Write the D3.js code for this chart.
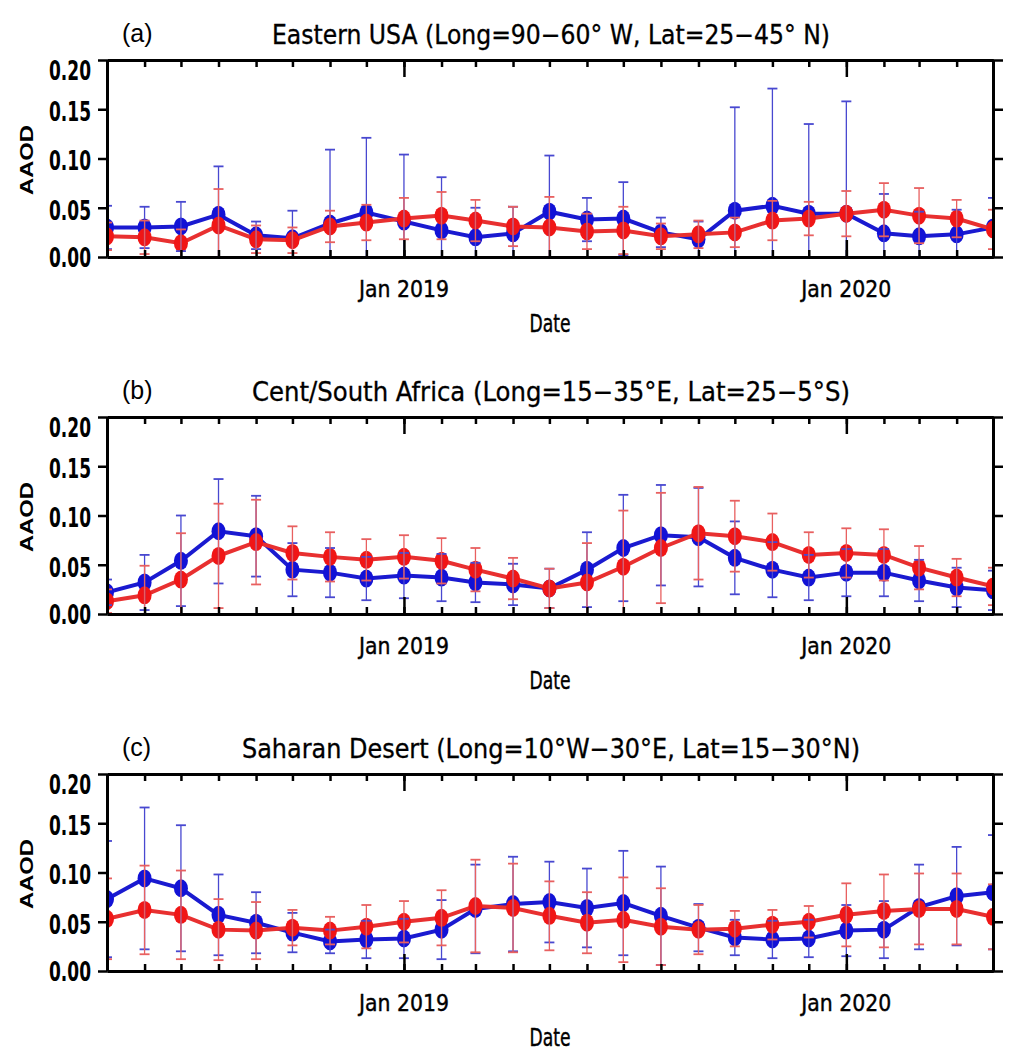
<!DOCTYPE html>
<html>
<head>
<meta charset="utf-8">
<script src="https://cdn.jsdelivr.net/npm/d3@7"></script>
<style>
  body { margin: 0; background: #fff; }
  svg { display: block; }
</style>
</head>
<body>
<script>
"use strict";

// monthly means from May 2018 to May 2020
const months = ["2018-05", "2018-06", "2018-07", "2018-08", "2018-09", "2018-10", "2018-11", "2018-12",
    "2019-01", "2019-02", "2019-03", "2019-04", "2019-05", "2019-06", "2019-07", "2019-08", "2019-09",
    "2019-10", "2019-11", "2019-12", "2020-01", "2020-02", "2020-03", "2020-04", "2020-05"];

const panelLabels = ["(a)", "(b)", "(c)"];
const panelTitles = [
    "Eastern USA (Long=90\u221260\u00b0 W, Lat=25\u221245\u00b0 N)",
    "Cent/South Africa (Long=15\u221235\u00b0E, Lat=25\u22125\u00b0S)",
    "Saharan Desert (Long=10\u00b0W\u221230\u00b0E, Lat=15\u221230\u00b0N)"
];

const yTicks = [0, 0.05, 0.10, 0.15, 0.20];
const xTickMonths = ["2019-01", "2020-01"];
const xTickLabels = ["Jan 2019", "Jan 2020"];

// (a) Eastern USA
const usaBlue = [0.030, 0.030, 0.031, 0.043, 0.022, 0.019, 0.034, 0.045, 0.036, 0.027, 0.020, 0.024, 0.046,
    0.038, 0.039, 0.025, 0.018, 0.047, 0.052, 0.044, 0.044, 0.024, 0.021, 0.023, 0.030];
const usaBlueSd = [0.022, 0.021, 0.025, 0.049, 0.014, 0.028, 0.075, 0.076, 0.068, 0.054, 0.030, 0.027, 0.057,
    0.022, 0.037, 0.015, 0.018, 0.105, 0.119, 0.091, 0.114, 0.040, 0.025, 0.025, 0.030];
const usaRed = [0.021, 0.020, 0.014, 0.032, 0.018, 0.017, 0.031, 0.035, 0.039, 0.042, 0.037, 0.031, 0.030,
    0.026, 0.027, 0.021, 0.023, 0.025, 0.037, 0.039, 0.044, 0.048, 0.042, 0.039, 0.028];
const usaRedSd = [0.014, 0.017, 0.014, 0.037, 0.014, 0.013, 0.016, 0.018, 0.021, 0.024, 0.021, 0.020, 0.031,
    0.018, 0.024, 0.013, 0.014, 0.015, 0.020, 0.017, 0.023, 0.027, 0.028, 0.019, 0.020];

// (b) Cent/South Africa
const africaBlue = [0.022, 0.032, 0.054, 0.084, 0.079, 0.045, 0.042, 0.036, 0.039, 0.037, 0.032, 0.030, 0.026,
    0.045, 0.067, 0.080, 0.078, 0.057, 0.045, 0.037, 0.042, 0.042, 0.034, 0.027, 0.024];
const africaBlueSd = [0.013, 0.028, 0.046, 0.053, 0.041, 0.027, 0.025, 0.022, 0.023, 0.024, 0.020, 0.021, 0.020,
    0.038, 0.054, 0.051, 0.050, 0.037, 0.028, 0.023, 0.024, 0.024, 0.021, 0.020, 0.020];
const africaRed = [0.013, 0.019, 0.035, 0.059, 0.073, 0.062, 0.058, 0.055, 0.058, 0.054, 0.045, 0.036, 0.026,
    0.032, 0.048, 0.067, 0.082, 0.079, 0.073, 0.060, 0.062, 0.060, 0.047, 0.037, 0.028];
const africaRedSd = [0.012, 0.030, 0.047, 0.053, 0.043, 0.027, 0.025, 0.021, 0.022, 0.023, 0.022, 0.021, 0.020,
    0.040, 0.057, 0.056, 0.047, 0.036, 0.029, 0.023, 0.025, 0.026, 0.022, 0.019, 0.019];

// (c) Saharan Desert
const saharaBlue = [0.073, 0.094, 0.084, 0.057, 0.049, 0.039, 0.030, 0.032, 0.033, 0.042, 0.063, 0.068, 0.070,
    0.064, 0.069, 0.056, 0.044, 0.034, 0.032, 0.033, 0.041, 0.042, 0.065, 0.076, 0.080];
const saharaBlueSd = [0.059, 0.072, 0.064, 0.041, 0.031, 0.020, 0.012, 0.019, 0.020, 0.030, 0.045, 0.048, 0.041,
    0.040, 0.053, 0.050, 0.024, 0.018, 0.019, 0.019, 0.026, 0.029, 0.043, 0.050, 0.058];
const saharaRed = [0.053, 0.062, 0.057, 0.042, 0.041, 0.044, 0.041, 0.045, 0.050, 0.054, 0.066, 0.064, 0.056,
    0.049, 0.052, 0.045, 0.042, 0.043, 0.047, 0.050, 0.057, 0.061, 0.063, 0.063, 0.055];
const saharaRedSd = [0.041, 0.045, 0.045, 0.031, 0.029, 0.018, 0.014, 0.022, 0.021, 0.028, 0.047, 0.045, 0.035,
    0.031, 0.043, 0.039, 0.025, 0.018, 0.015, 0.016, 0.032, 0.037, 0.036, 0.036, 0.033];

const panels = [
    { blue: usaBlue, blueSd: usaBlueSd, red: usaRed, redSd: usaRedSd },
    { blue: africaBlue, blueSd: africaBlueSd, red: africaRed, redSd: africaRedSd },
    { blue: saharaBlue, blueSd: saharaBlueSd, red: saharaRed, redSd: saharaRedSd }
];

const W = 1019, H = 1061;
const left = 107, right = 993, plotH = 197, firstTop = 60, panelStep = 357;
const titleFont = "'DejaVu Sans Condensed', 'DejaVu Sans', sans-serif";

const colors = {
    blue: "#1212d6", blueLine: "#1a1ad0", blueBar: "#4848d0",
    red: "#f01616", redLine: "#e83030", redBar: "#e86060"
};

const parseMonth = d3.timeParse("%Y-%m");
const dates = months.map(parseMonth);

const svg = d3.select("body").append("svg")
    .attr("width", W)
    .attr("height", H);

const x = d3.scaleTime()
    .domain([dates[0], dates[dates.length - 1]])
    .range([left, right]);

function drawSeries(g, y, means, sds, col, lineCol) {
    const pts = means.map((v, i) => ({ date: dates[i], v: v, sd: sds[i] }));

    g.append("path")
        .datum(pts)
        .attr("fill", "none")
        .attr("stroke", lineCol)
        .attr("stroke-width", 4)
        .attr("d", d3.line().x(d => x(d.date)).y(d => y(d.v)));

    g.selectAll(null)
        .data(pts)
        .join("ellipse")
        .attr("cx", d => x(d.date))
        .attr("cy", d => y(d.v))
        .attr("rx", 7)
        .attr("ry", 9)
        .attr("fill", col);

    return pts;
}

function drawBars(g, y, pts, barCol) {
    const bars = g.selectAll(null)
        .data(pts)
        .join("g")
        .attr("stroke", barCol)
        .attr("stroke-width", 1.3)
        .attr("fill", "none");

    bars.append("line")
        .attr("x1", d => x(d.date)).attr("x2", d => x(d.date))
        .attr("y1", d => y(d.v - d.sd)).attr("y2", d => y(d.v + d.sd));
    bars.append("line")
        .attr("x1", d => x(d.date) - 5).attr("x2", d => x(d.date) + 5)
        .attr("y1", d => y(d.v + d.sd)).attr("y2", d => y(d.v + d.sd))
        .attr("stroke-width", 1.8);
    bars.append("line")
        .attr("x1", d => x(d.date) - 5).attr("x2", d => x(d.date) + 5)
        .attr("y1", d => y(d.v - d.sd)).attr("y2", d => y(d.v - d.sd))
        .attr("stroke-width", 1.8);
}

function styleAxis(g) {
    g.select(".domain").attr("stroke", "#000").attr("stroke-width", 3);
    g.selectAll(".tick line").attr("stroke", "#000").attr("stroke-width", 2.5);
}

panels.forEach((p, i) => {
    const top = firstTop + panelStep * i;
    const bottom = top + plotH;

    const y = d3.scaleLinear().domain([0, 0.2]).range([bottom, top]);

    svg.append("clipPath").attr("id", "clip" + i)
        .append("rect")
        .attr("x", left).attr("y", top)
        .attr("width", right - left).attr("height", plotH);

    const plot = svg.append("g").attr("clip-path", `url(#clip${i})`);

    const bluePts = drawSeries(plot, y, p.blue, p.blueSd, colors.blue, colors.blueLine);
    const redPts = drawSeries(plot, y, p.red, p.redSd, colors.red, colors.redLine);
    drawBars(plot, y, bluePts, colors.blueBar);
    drawBars(plot, y, redPts, colors.redBar);

    // month ticks, pointing inwards
    const monthAxisB = d3.axisBottom(x).ticks(d3.timeMonth.every(1)).tickSize(-7).tickSizeOuter(0).tickFormat("");
    const monthAxisT = d3.axisTop(x).ticks(d3.timeMonth.every(1)).tickSize(-7).tickSizeOuter(0).tickFormat("");
    svg.append("g").attr("transform", `translate(0,${bottom})`).call(monthAxisB).call(styleAxis);
    svg.append("g").attr("transform", `translate(0,${top})`).call(monthAxisT).call(styleAxis);

    // longer January ticks
    const janDates = xTickMonths.map(parseMonth);
    svg.append("g").attr("transform", `translate(0,${bottom})`)
        .call(d3.axisBottom(x).tickValues(janDates).tickSize(-17).tickSizeOuter(0).tickFormat(""))
        .call(styleAxis);
    svg.append("g").attr("transform", `translate(0,${top})`)
        .call(d3.axisTop(x).tickValues(janDates).tickSize(-17).tickSizeOuter(0).tickFormat(""))
        .call(styleAxis);

    // y axes, ticks pointing outwards
    const yAxisL = svg.append("g").attr("transform", `translate(${left},0)`)
        .call(d3.axisLeft(y).tickValues(yTicks).tickSize(9).tickSizeOuter(0).tickPadding(7)
            .tickFormat(d3.format(".2f")))
        .call(styleAxis);
    yAxisL.selectAll(".tick text")
        .attr("font-family", titleFont)
        .attr("font-weight", "bold")
        .attr("font-size", 26)
        .attr("fill", "#000")
        .attr("textLength", 42)
        .attr("lengthAdjust", "spacingAndGlyphs")
        .attr("y", d => d === 0.2 ? 10 : (d === 0 ? 0 : 2))
        .attr("dy", "0.36em");

    svg.append("g").attr("transform", `translate(${right},0)`)
        .call(d3.axisRight(y).tickValues(yTicks).tickSize(10).tickSizeOuter(0).tickFormat(""))
        .call(styleAxis);

    // x tick labels
    svg.append("g").selectAll("text")
        .data(xTickMonths)
        .join("text")
        .attr("x", (d) => x(parseMonth(d)))
        .attr("y", bottom + 40)
        .attr("text-anchor", "middle")
        .attr("font-family", titleFont)
        .attr("font-size", 23)
        .attr("stroke", "#000")
        .attr("stroke-width", 0.4)
        .attr("textLength", 90)
        .attr("lengthAdjust", "spacingAndGlyphs")
        .text((d, k) => xTickLabels[k]);

    svg.append("text")
        .attr("x", 550)
        .attr("y", bottom + 75)
        .attr("text-anchor", "middle")
        .attr("font-family", titleFont)
        .attr("font-size", 25)
        .attr("stroke", "#000")
        .attr("stroke-width", 0.4)
        .attr("textLength", 41)
        .attr("lengthAdjust", "spacingAndGlyphs")
        .text("Date");

    svg.append("text")
        .attr("transform", `translate(33,${top + 100}) rotate(-90)`)
        .attr("text-anchor", "middle")
        .attr("font-family", "'Liberation Sans', Arial, sans-serif")
        .attr("font-weight", "bold")
        .attr("font-size", 18)
        .attr("textLength", 70)
        .attr("lengthAdjust", "spacingAndGlyphs")
        .text("AAOD");

    // panel title and letter
    const titleWidths = [558, 598, 618];
    svg.append("text")
        .attr("x", 551)
        .attr("y", top - 16)
        .attr("text-anchor", "middle")
        .attr("font-family", titleFont)
        .attr("font-size", 26)
        .attr("stroke", "#000")
        .attr("stroke-width", 0.3)
        .attr("textLength", titleWidths[i])
        .attr("lengthAdjust", "spacingAndGlyphs")
        .text(panelTitles[i]);

    svg.append("text")
        .attr("x", 122)
        .attr("y", top - 18)
        .attr("font-family", "'Liberation Sans', Arial, sans-serif")
        .attr("font-size", 25)
        .text(panelLabels[i]);
});
</script>
</body>
</html>
